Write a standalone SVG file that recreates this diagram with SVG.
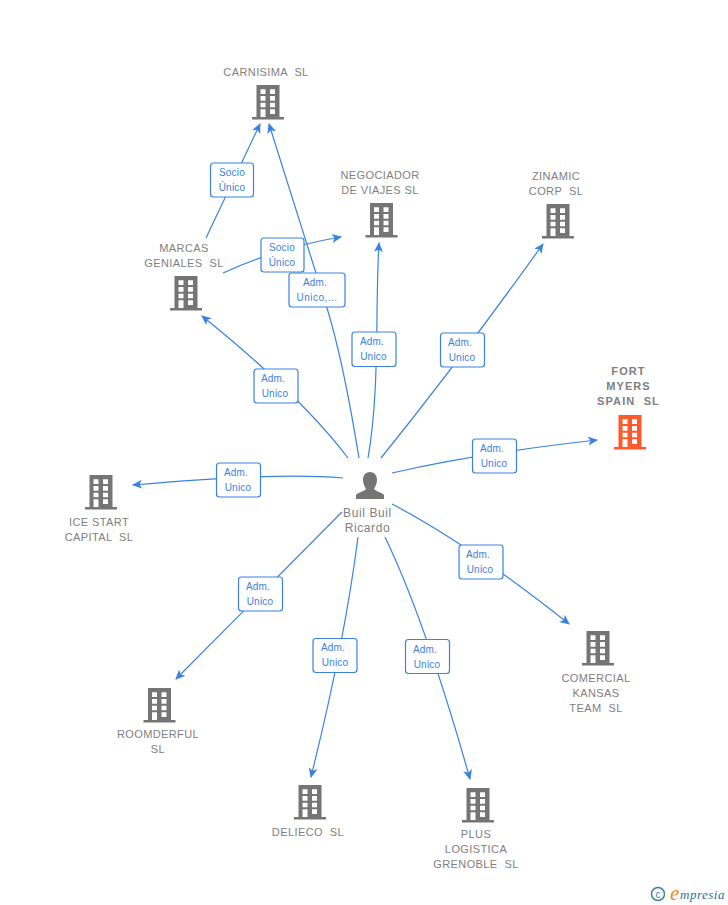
<svg xmlns="http://www.w3.org/2000/svg" xmlns:xlink="http://www.w3.org/1999/xlink" width="728" height="905" viewBox="0 0 728 905">
<style>
.n{font-family:"Liberation Sans",Arial,sans-serif;font-size:11px;fill:#808080;text-anchor:middle;letter-spacing:.4px;white-space:pre}
.l{font-family:"Liberation Sans",Arial,sans-serif;font-size:10px;fill:#3b7fe0;text-anchor:middle;letter-spacing:.2px}
.c{fill:none;stroke:#3b82e0;stroke-width:1.2}
.b{fill:#fff;stroke:#3b82e0;stroke-width:1.2}
.g{fill:#757575}.o{fill:#ff5a2b}
.f{font-weight:bold;letter-spacing:1.1px}
</style>
<defs>
<path id="bld" fill-rule="evenodd" d="M-11.500-17H11.500V15H16V17.500H-16V15H-11.500ZM-7.500-12.700V-8H-2.500V-12.700ZM2-12.700V-8H7V-12.700ZM-7.500-6V-1.300H-2.500V-6ZM2-6V-1.300H7V-6ZM-7.500.7V5.300H-2.500V.7ZM2 .7V5.300H7V.7ZM-7.500 7.300V15H-2.500V7.300ZM2 7.300V12H7V7.300Z"/>
<marker id="a" viewBox="0 0 10 10" refX="9" refY="5" markerWidth="10" markerHeight="10" markerUnits="userSpaceOnUse" orient="auto"><path d="M0 0.500L10 5L0 9.500L2.500 5Z" fill="#3b82e0"/></marker>
</defs>
<g id="connectors">
<path class="c" marker-end="url(#a)" d="M206 238L260 124"/>
<path class="c" marker-end="url(#a)" d="M223 273Q280 247 341 237"/>
<path class="c" marker-end="url(#a)" d="M359 458C352 415 340 350 327 308L269 124"/>
<path class="c" marker-end="url(#a)" d="M368 458C380 390 375 310 379 243"/>
<path class="c" marker-end="url(#a)" d="M381 458Q460 360 543 244"/>
<path class="c" marker-end="url(#a)" d="M392 473Q480 453 597 440"/>
<path class="c" marker-end="url(#a)" d="M348 458Q300 395 202 316"/>
<path class="c" marker-end="url(#a)" d="M343 478Q280 472 133 485"/>
<path class="c" marker-end="url(#a)" d="M342 512L176 679"/>
<path class="c" marker-end="url(#a)" d="M358 537Q345 640 311 777"/>
<path class="c" marker-end="url(#a)" d="M385 537Q425 620 470 779"/>
<path class="c" marker-end="url(#a)" d="M392 504Q470 545 569 624"/>
</g>
<g id="edge-labels">
<g><rect class="b" x="210.500" y="163" width="43" height="34" rx="3"/><text class="l" x="232" y="176">Socio</text><text class="l" x="232" y="191">Único</text></g>
<g><rect class="b" x="261" y="238" width="43" height="34" rx="3"/><text class="l" x="282" y="251">Socio</text><text class="l" x="282" y="266">Único</text></g>
<g><rect class="b" x="289" y="273" width="56" height="34" rx="3"/><text class="l" x="315" y="286">Adm.</text><text class="l" x="317" y="301" style="letter-spacing:.5px">Unico,...</text></g>
<g><rect class="b" x="352" y="332" width="44" height="34.500" rx="3"/><text class="l" x="372" y="345">Adm.</text><text class="l" x="373.500" y="360">Unico</text></g>
<g><rect class="b" x="440.500" y="333" width="44" height="34" rx="3"/><text class="l" x="460" y="346">Adm.</text><text class="l" x="462" y="361">Unico</text></g>
<g><rect class="b" x="472.500" y="439" width="44" height="34" rx="3"/><text class="l" x="492" y="452">Adm.</text><text class="l" x="494" y="467">Unico</text></g>
<g><rect class="b" x="254" y="369" width="44" height="34" rx="3"/><text class="l" x="273" y="382">Adm.</text><text class="l" x="275" y="397">Unico</text></g>
<g><rect class="b" x="216.500" y="463" width="44" height="34" rx="3"/><text class="l" x="236" y="476">Adm.</text><text class="l" x="238" y="491">Unico</text></g>
<g><rect class="b" x="238.500" y="577" width="44" height="34" rx="3"/><text class="l" x="258" y="590">Adm.</text><text class="l" x="260" y="605">Unico</text></g>
<g><rect class="b" x="313" y="638.500" width="44" height="34" rx="3"/><text class="l" x="333" y="651">Adm.</text><text class="l" x="335" y="666">Unico</text></g>
<g><rect class="b" x="405.500" y="639.500" width="44" height="34" rx="3"/><text class="l" x="425" y="653">Adm.</text><text class="l" x="427" y="668">Unico</text></g>
<g><rect class="b" x="459" y="545" width="44" height="34" rx="3"/><text class="l" x="478" y="558">Adm.</text><text class="l" x="480" y="573">Unico</text></g>
</g>
<g id="node-carnisima"><use xlink:href="#bld" href="#bld" class="g" x="268" y="102"/><text class="n" x="266" y="76">CARNISIMA  SL</text></g>
<g id="node-negociador"><use xlink:href="#bld" href="#bld" class="g" x="381.500" y="220"/><text class="n" x="380" y="179">NEGOCIADOR</text><text class="n" x="380" y="194">DE VIAJES SL</text></g>
<g id="node-zinamic"><use xlink:href="#bld" href="#bld" class="g" x="558" y="221"/><text class="n" x="556" y="180">ZINAMIC</text><text class="n" x="556" y="195">CORP  SL</text></g>
<g id="node-marcas"><use xlink:href="#bld" href="#bld" class="g" x="186" y="293"/><text class="n" x="184" y="252">MARCAS</text><text class="n" x="184" y="267">GENIALES  SL</text></g>
<g id="node-fort-myers"><use xlink:href="#bld" href="#bld" class="o" x="630" y="432"/><text class="n f" x="628.500" y="375">FORT</text><text class="n f" x="628.500" y="390">MYERS</text><text class="n f" x="628.500" y="405">SPAIN  SL</text></g>
<g id="node-ice-start"><use xlink:href="#bld" href="#bld" class="g" x="101" y="492"/><text class="n" x="99" y="526">ICE START</text><text class="n" x="99" y="541">CAPITAL  SL</text></g>
<g id="node-roomderful"><use xlink:href="#bld" href="#bld" class="g" x="159.500" y="705"/><text class="n" x="158" y="738">ROOMDERFUL</text><text class="n" x="158" y="753">SL</text></g>
<g id="node-delieco"><use xlink:href="#bld" href="#bld" class="g" x="310" y="802"/><text class="n" x="308" y="836">DELIECO  SL</text></g>
<g id="node-plus"><use xlink:href="#bld" href="#bld" class="g" x="478" y="805"/><text class="n" x="476" y="838">PLUS</text><text class="n" x="476" y="853">LOGISTICA</text><text class="n" x="476" y="868">GRENOBLE  SL</text></g>
<g id="node-comercial"><use xlink:href="#bld" href="#bld" class="g" x="598" y="648"/><text class="n" x="596" y="682">COMERCIAL</text><text class="n" x="596" y="697">KANSAS</text><text class="n" x="596" y="712">TEAM  SL</text></g>
<g id="node-person"><path class="g" d="M370 472C375 472 377 476 377 480C377 484 375 487 374 489C375 491 383 493 384 495V499H356V495C357 493 365 491 366 489C365 487 363 484 363 480C363 476 365 472 370 472Z"/><text class="n" x="367.500" y="517" style="font-size:12px;letter-spacing:.6px">Buil Buil</text><text class="n" x="367.500" y="532" style="font-size:12px;letter-spacing:.6px">Ricardo</text></g>
<g id="watermark"><circle cx="658" cy="894" r="6.500" fill="none" stroke="#3f7f9f" stroke-width="1.500"/><text x="658" y="897.500" text-anchor="middle" style="font-family:'Liberation Sans',sans-serif;font-size:10px;fill:#3f7f9f">c</text><text x="670" y="900" style="font-family:'Liberation Serif',serif;font-style:italic;font-size:21px;fill:#f08a1d">e</text><text x="680" y="899" style="font-family:'Liberation Serif',serif;font-style:italic;font-size:13px;fill:#2f6f8f;letter-spacing:.5px">mpresia</text></g>
</svg>
